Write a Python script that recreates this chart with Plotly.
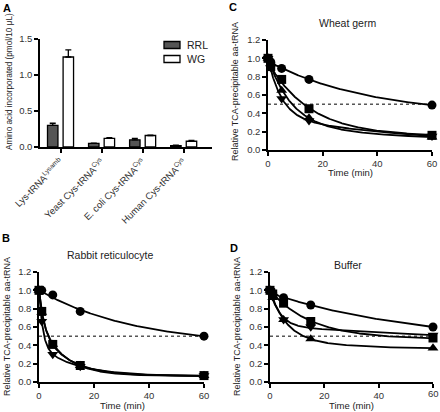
import numpy as np
import plotly.graph_objects as go

W, H = 440, 412

# ---------------- Panel A data ----------------
categories = ["Lys-tRNA<sup>Lysamb</sup>", "Yeast Cys-tRNA<sup>Cys</sup>",
              "E. coli Cys-tRNA<sup>Cys</sup>", "Human Cys-tRNA<sup>Cys</sup>"]
rrl_vals = [0.30, 0.05, 0.10, 0.02]
rrl_err = [0.03, 0.005, 0.02, 0.005]
wg_vals = [1.25, 0.12, 0.16, 0.08]
wg_err = [0.10, 0.01, 0.005, 0.01]

# ---------------- Time-course data ----------------
time_min = [0, 1, 5, 15, 60]
time_ticks = [0, 20, 40, 60]

wheat_circle = [1.00, 0.96, 0.89, 0.77, 0.49]
wheat_square = [1.00, 0.91, 0.77, 0.45, 0.16]
wheat_triup = [1.00, 0.94, 0.65, 0.35, 0.14]
wheat_tridown = [1.00, 0.90, 0.56, 0.32, 0.15]

rabbit_circle = [1.00, 1.00, 0.95, 0.77, 0.50]
rabbit_square = [1.00, 0.77, 0.41, 0.18, 0.07]
rabbit_triup = [1.00, 0.76, 0.41, 0.18, 0.07]
rabbit_tridown = [1.00, 0.66, 0.30, 0.17, 0.07]

buffer_circle = [1.00, 0.97, 0.92, 0.84, 0.60]
buffer_square = [1.00, 0.96, 0.86, 0.66, 0.48]
buffer_triup = [1.00, 0.92, 0.68, 0.47, 0.37]
buffer_tridown = [1.00, 0.93, 0.68, 0.60, 0.51]

FONT = "Liberation Sans, Arial, sans-serif"


def px_x(p):
    return p / W


def px_y(p):
    return 1 - p / H


def decay_fit(t, y):
    """Two-phase decay (Y0 = 1) least-squares fit derived from the data."""
    t = np.asarray(t, float)
    y = np.asarray(y, float)
    ks = np.logspace(-3, 1.3, 70)
    fs = np.linspace(0, 1, 21)
    A, B, F = np.meshgrid(ks, ks, fs, indexing="ij")
    A = A[..., None]
    B = B[..., None]
    F = F[..., None]
    e = F * np.exp(-A * t) + (1 - F) * np.exp(-B * t)
    a = 1 - e
    den = np.sum(a * a, axis=-1)
    den[den == 0] = 1e-12
    p = np.sum((y - e) * a, axis=-1) / den
    p = np.clip(p, 0, 1)
    r = np.sum((e + p[..., None] * a - y) ** 2, axis=-1)
    i = np.unravel_index(np.argmin(r), r.shape)
    ka, kb, f, pp = ks[i[0]], ks[i[1]], fs[i[2]], p[i]
    tt = np.linspace(0, 60, 500)
    yy = pp + (1 - pp) * (f * np.exp(-ka * tt) + (1 - f) * np.exp(-kb * tt))
    return tt, yy


fig = go.Figure()

# ---------------- Panel A bars ----------------
fig.add_trace(go.Bar(
    x=categories, y=rrl_vals, name="RRL",
    marker=dict(color="#555555", line=dict(color="black", width=1.3)),
    error_y=dict(type="data", array=rrl_err, arrayminus=[0] * 4, symmetric=False,
                 color="black", thickness=1.3, width=3),
    xaxis="x", yaxis="y", showlegend=False))
fig.add_trace(go.Bar(
    x=categories, y=wg_vals, name="WG",
    marker=dict(color="white", line=dict(color="black", width=1.3)),
    error_y=dict(type="data", array=wg_err, arrayminus=[0] * 4, symmetric=False,
                 color="black", thickness=1.3, width=3),
    xaxis="x", yaxis="y", showlegend=False))

# ---------------- Time-course panels ----------------
panels = [
    ("x2", "y2", [wheat_circle, wheat_square, wheat_triup, wheat_tridown]),
    ("x3", "y3", [rabbit_circle, rabbit_triup, rabbit_square, rabbit_tridown]),
    ("x4", "y4", [buffer_circle, buffer_square, buffer_triup, buffer_tridown]),
]
symbols_by_panel = [
    ["circle", "square", "triangle-up", "triangle-down"],
    ["circle", "triangle-up", "square", "triangle-down"],
    ["circle", "square", "triangle-up", "triangle-down"],
]

for (xa, ya, series), syms in zip(panels, symbols_by_panel):
    fig.add_trace(go.Scatter(x=[time_min[0], time_min[-1]], y=[0.5, 0.5], mode="lines",
                             line=dict(color="black", width=1, dash="dot"),
                             xaxis=xa, yaxis=ya, showlegend=False, hoverinfo="skip"))
    for vals in series:
        tt, yy = decay_fit(time_min, vals)
        fig.add_trace(go.Scatter(x=tt, y=yy, mode="lines",
                                 line=dict(color="black", width=1.8),
                                 xaxis=xa, yaxis=ya, showlegend=False, hoverinfo="skip",
                                 cliponaxis=False))
    for vals, sym in zip(series, syms):
        size = 9 if sym in ("circle", "square") else 9.5
        fig.add_trace(go.Scatter(x=time_min, y=vals, mode="markers",
                                 marker=dict(symbol=sym, size=size, color="black"),
                                 xaxis=xa, yaxis=ya, showlegend=False, cliponaxis=False))

axis_common = dict(showline=True, linecolor="black", linewidth=1.5, ticks="outside",
                   ticklen=4, tickwidth=1.5, tickcolor="black", showgrid=False,
                   zeroline=False, automargin=False, ticklabeloverflow="allow",
                   tickfont=dict(family=FONT, size=9.5, color="#333"))

layout = dict(
    width=W, height=H, margin=dict(l=0, r=0, t=0, b=0, pad=0, autoexpand=False),
    paper_bgcolor="white", plot_bgcolor="white",
    barmode="group", bargap=0.24, bargroupgap=0.33,
    font=dict(family=FONT, color="#222"),
    xaxis=dict(axis_common, domain=[px_x(40), px_x(212)], range=[-0.5, 3.69],
               tickangle=-45, anchor="y"),
    yaxis=dict(axis_common, domain=[px_y(147), px_y(39)], range=[0, 1.5],
               tickvals=[0, 0.5, 1.0, 1.5], tickformat=".1f", anchor="x"),
)

time_axes = {
    "2": ([268, 432], [150, 40]),
    "3": ([39, 204], [382, 272]),
    "4": ([270, 433], [382, 272]),
}
for n, (xd, yd) in time_axes.items():
    labels = [str(v) for v in time_ticks]
    if n == "4":
        labels[-1] = ""  # last label drawn as an axis-referenced annotation below
    layout["xaxis" + n] = dict(axis_common, domain=[px_x(xd[0]), px_x(xd[1])],
                               range=[0, 60.001], tickmode="array", tickvals=time_ticks,
                               ticktext=labels, anchor="y" + n)
    layout["yaxis" + n] = dict(axis_common, domain=[px_y(yd[0]), px_y(yd[1])],
                               range=[0, 1.2], tickvals=[0, 0.2, 0.4, 0.6, 0.8, 1.0, 1.2],
                               tickformat=".1f", anchor="x" + n)

fig.update_layout(**layout)

ann = []


def add_text(x, y, text, size=9.5, angle=0, bold=False, xanchor="center"):
    ann.append(dict(x=px_x(x), y=px_y(y), xref="paper", yref="paper", text=text,
                    showarrow=False, textangle=angle, xanchor=xanchor, yanchor="middle",
                    font=dict(family=FONT, size=size, color="black" if bold else "#222")))


# last x tick label of panel D, placed via the panel's own axes
ann.append(dict(x=time_ticks[-1], y=0, xref="x4", yref="y4", text=str(time_ticks[-1]),
                showarrow=False, xanchor="center", yanchor="top", yshift=-4,
                font=dict(family=FONT, size=9.5, color="#333")))

# panel letters
add_text(7, 8, "<b>A</b>", size=11, bold=True)
add_text(6, 238, "<b>B</b>", size=11, bold=True)
add_text(233, 7, "<b>C</b>", size=11, bold=True)
add_text(234, 248, "<b>D</b>", size=11, bold=True)

# panel titles
add_text(347, 23, "Wheat germ", size=10.5)
add_text(110, 255, "Rabbit reticulocyte", size=10.5)
add_text(348, 265, "Buffer", size=10.5)

# x-axis titles
add_text(350, 173, "Time (min)", size=9.5)
add_text(122, 405, "Time (min)", size=9.5)
add_text(351, 405, "Time (min)", size=9.5)

# y-axis titles
add_text(9, 82, "Amino acid incorporated (pmol/10 μL)", size=8.2, angle=-90)
add_text(7, 327, "Relative TCA-precipitable aa-tRNA", size=9, angle=-90)
add_text(235, 92, "Relative TCA-precipitable aa-tRNA", size=9, angle=-90)
add_text(237, 327, "Relative TCA-precipitable aa-tRNA", size=9, angle=-90)

# manual legend for panel A
legend_items = [("RRL", "#555555", 45), ("WG", "white", 59)]
shapes = []
for label, color, yc in legend_items:
    shapes.append(dict(type="rect", xref="paper", yref="paper",
                       x0=px_x(164), x1=px_x(180), y0=px_y(yc + 3.5), y1=px_y(yc - 3.5),
                       fillcolor=color, line=dict(color="black", width=1.3)))
    add_text(185, yc, label, size=10.5, xanchor="left")

fig.update_layout(annotations=ann, shapes=shapes)

fig.write_html("out.html")
